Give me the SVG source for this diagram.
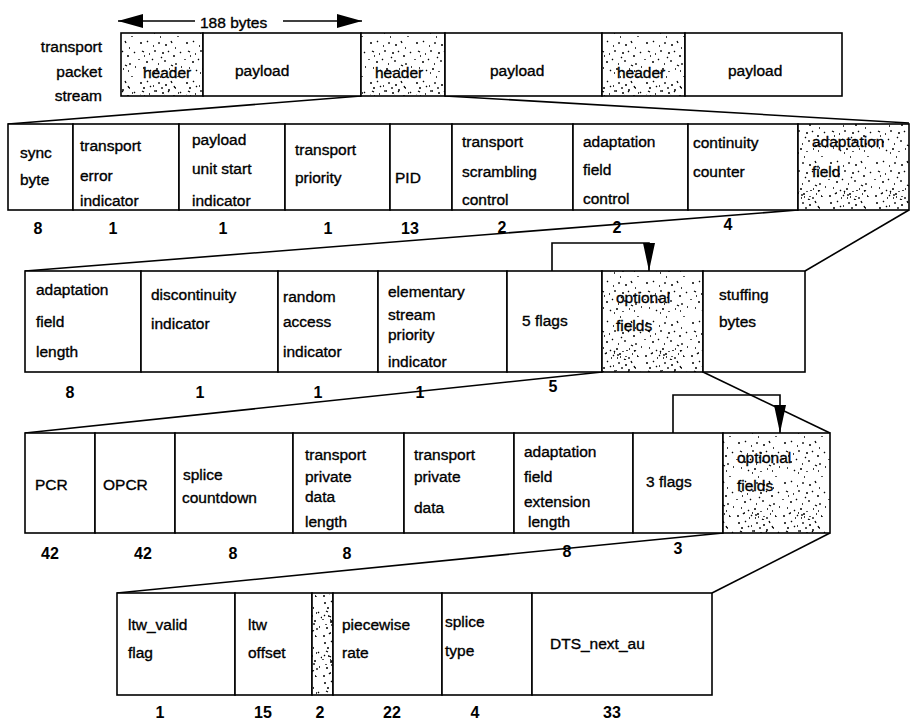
<svg xmlns="http://www.w3.org/2000/svg" width="911" height="721" viewBox="0 0 911 721">
<style>
text{font-family:"Liberation Sans",Arial,sans-serif;font-size:15.5px;fill:#000;stroke:#000;stroke-width:0.35}
.n{font-weight:bold;text-anchor:middle;stroke-width:0;font-size:16px}
.b{fill:#fff;stroke:#000;stroke-width:1.6}
.s{fill:url(#stip);stroke:#000;stroke-width:1.6}
.d{fill:url(#stipB);stroke:none}
.c{fill:none;stroke:#000;stroke-width:1.6}
.lbl{text-anchor:end}
</style>
<defs>
<pattern id="stip" width="46" height="40" patternUnits="userSpaceOnUse">
<rect width="46" height="40" fill="#fff"/>
<path id="dots" d="M2 3h2 M9 1l1 1 M15 6h1 M21 2v2 M27 5h2 M33 1l1 2 M37 8h1 M4 11l2 1 M11 14h1 M17 10v2 M24 13h2 M30 11l1 1 M35 16h2 M1 19v1 M8 22h2 M14 19l1 1 M20 24h1 M27 20v2 M33 25l2 1 M5 28h1 M12 30l1 1 M18 29h2 M25 31v1 M31 29h1 M38 23v2 M6 16h1 M23 17l1 1 M36 31h1 M16 33h1 M42 12l1 1 M43 27h1 M40 36v1 M22 37h1" stroke="#000" stroke-width="1.3" fill="none"/>
</pattern>
<pattern id="stipB" width="46" height="40" patternUnits="userSpaceOnUse">
<use href="#dots" transform="translate(3 5)"/>
<use href="#dots" transform="translate(-7 14)"/>
</pattern>
<marker id="tri" viewBox="0 0 28 12" markerWidth="28" markerHeight="12" refX="28" refY="6" orient="auto" markerUnits="userSpaceOnUse">
<path d="M0 0L28 6L0 12z" fill="#000"/>
</marker>
<marker id="tri2" viewBox="0 0 25 14" markerWidth="25" markerHeight="14" refX="25" refY="7" orient="auto" markerUnits="userSpaceOnUse">
<path d="M0 0L25 7L0 14z" fill="#000"/>
</marker>
</defs>
<rect width="911" height="721" fill="#fff"/>

<g id="connectors">
<line class="c" x1="195" y1="21" x2="118" y2="21" marker-end="url(#tri2)"/>
<line class="c" x1="283" y1="21" x2="362" y2="21" marker-end="url(#tri2)"/>
<line class="c" x1="361" y1="96" x2="8" y2="124"/>
<line class="c" x1="445" y1="96" x2="909" y2="123"/>
<line class="c" x1="798" y1="210" x2="25" y2="271"/>
<line class="c" x1="909" y1="210" x2="805" y2="271"/>
<line class="c" x1="602" y1="372" x2="25" y2="433"/>
<line class="c" x1="703" y1="372" x2="830" y2="433"/>
<line class="c" x1="723" y1="533" x2="117" y2="593"/>
<line class="c" x1="830" y1="533" x2="712" y2="593"/>
<path class="c" d="M552 271V243H649V271" marker-end="url(#tri)"/>
<path class="c" d="M673 433V395H780V433" marker-end="url(#tri)"/>
</g>

<g id="stream-label">
<text x="200" y="28">188 bytes</text>
<text class="lbl" x="102" y="52">transport</text>
<text class="lbl" x="102" y="77">packet</text>
<text class="lbl" x="102" y="101">stream</text>
</g>

<g id="header1"><rect class="s" x="121" y="33" width="82" height="63"/><rect class="d" x="122" y="82" width="80" height="13"/><text x="143" y="78">header</text></g>
<g id="payload1"><rect class="b" x="203" y="33" width="158" height="63"/><text x="235" y="76">payload</text></g>
<g id="header2"><rect class="s" x="361" y="33" width="84" height="63"/><rect class="d" x="362" y="82" width="82" height="13"/><text x="375" y="78">header</text></g>
<g id="payload2"><rect class="b" x="445" y="33" width="157" height="63"/><text x="490" y="76">payload</text></g>
<g id="header3"><rect class="s" x="602" y="33" width="83" height="63"/><rect class="d" x="603" y="82" width="81" height="13"/><text x="617" y="78">header</text></g>
<g id="payload3"><rect class="b" x="685" y="33" width="157" height="63"/><text x="728" y="76">payload</text></g>

<g id="sync-byte"><rect class="b" x="8" y="124" width="65" height="86"/><text x="20" y="158">sync</text><text x="20" y="185">byte</text><text class="n" x="38" y="234">8</text></g>
<g id="transport-error-indicator"><rect class="b" x="73" y="124" width="106" height="86"/><text x="80" y="151">transport</text><text x="80" y="181">error</text><text x="80" y="206">indicator</text><text class="n" x="113" y="234">1</text></g>
<g id="payload-unit-start-indicator"><rect class="b" x="179" y="124" width="106" height="86"/><text x="192" y="145">payload</text><text x="192" y="174">unit start</text><text x="192" y="206">indicator</text><text class="n" x="223" y="234">1</text></g>
<g id="transport-priority"><rect class="b" x="285" y="124" width="105" height="86"/><text x="295" y="155">transport</text><text x="295" y="183">priority</text><text class="n" x="328" y="234">1</text></g>
<g id="pid"><rect class="b" x="390" y="124" width="62" height="86"/><text x="395" y="183">PID</text><text class="n" x="410" y="234">13</text></g>
<g id="transport-scrambling-control"><rect class="b" x="452" y="124" width="121" height="86"/><text x="462" y="147">transport</text><text x="462" y="177">scrambling</text><text x="462" y="205">control</text><text class="n" x="502" y="233">2</text></g>
<g id="adaptation-field-control"><rect class="b" x="573" y="124" width="115" height="86"/><text x="583" y="147">adaptation</text><text x="583" y="175">field</text><text x="583" y="204">control</text><text class="n" x="617" y="233">2</text></g>
<g id="continuity-counter"><rect class="b" x="688" y="124" width="110" height="86"/><text x="693" y="148">continuity</text><text x="693" y="177">counter</text><text class="n" x="728" y="230">4</text></g>
<g id="adaptation-field"><rect class="s" x="798" y="124" width="111" height="86"/><rect class="d" x="799" y="190" width="109" height="19"/><text x="812" y="147">adaptation</text><text x="812" y="177">field</text></g>

<g id="adaptation-field-length"><rect class="b" x="25" y="271" width="116" height="101"/><text x="36" y="295">adaptation</text><text x="36" y="327">field</text><text x="36" y="357">length</text><text class="n" x="70" y="398">8</text></g>
<g id="discontinuity-indicator"><rect class="b" x="141" y="271" width="137" height="101"/><text x="151" y="300">discontinuity</text><text x="151" y="329">indicator</text><text class="n" x="200" y="398">1</text></g>
<g id="random-access-indicator"><rect class="b" x="278" y="271" width="100" height="101"/><text x="283" y="302">random</text><text x="283" y="327">access</text><text x="283" y="357">indicator</text><text class="n" x="318" y="398">1</text></g>
<g id="es-priority-indicator"><rect class="b" x="378" y="271" width="129" height="101"/><text x="388" y="297">elementary</text><text x="388" y="320">stream</text><text x="388" y="340">priority</text><text x="388" y="367">indicator</text><text class="n" x="420" y="398">1</text></g>
<g id="five-flags"><rect class="b" x="507" y="271" width="95" height="101"/><text x="522" y="326">5 flags</text><text class="n" x="553" y="392">5</text></g>
<g id="optional-fields-1"><rect class="s" x="602" y="271" width="101" height="101"/><rect class="d" x="603" y="350" width="99" height="21"/><text x="616" y="303">optional</text><text x="616" y="331">fields</text></g>
<g id="stuffing-bytes"><rect class="b" x="703" y="271" width="102" height="101"/><text x="719" y="300">stuffing</text><text x="719" y="327">bytes</text></g>

<g id="pcr"><rect class="b" x="25" y="433" width="70" height="100"/><text x="35" y="490">PCR</text><text class="n" x="50" y="559">42</text></g>
<g id="opcr"><rect class="b" x="95" y="433" width="80" height="100"/><text x="103" y="490">OPCR</text><text class="n" x="143" y="559">42</text></g>
<g id="splice-countdown"><rect class="b" x="175" y="433" width="118" height="100"/><text x="183" y="480">splice</text><text x="182" y="503">countdown</text><text class="n" x="233" y="559">8</text></g>
<g id="transport-private-data-length"><rect class="b" x="293" y="433" width="111" height="100"/><text x="305" y="460">transport</text><text x="305" y="482">private</text><text x="305" y="502">data</text><text x="305" y="527">length</text><text class="n" x="347" y="559">8</text></g>
<g id="transport-private-data"><rect class="b" x="404" y="433" width="110" height="100"/><text x="414" y="460">transport</text><text x="414" y="482">private</text><text x="414" y="513">data</text></g>
<g id="adaptation-field-extension-length"><rect class="b" x="514" y="433" width="119" height="100"/><text x="524" y="457">adaptation</text><text x="524" y="482">field</text><text x="524" y="507">extension</text><text x="528" y="527">length</text><text class="n" x="567" y="557">8</text></g>
<g id="three-flags"><rect class="b" x="633" y="433" width="90" height="100"/><text x="646" y="487">3 flags</text><text class="n" x="678" y="554">3</text></g>
<g id="optional-fields-2"><rect class="s" x="723" y="433" width="107" height="100"/><rect class="d" x="724" y="512" width="105" height="20"/><text x="737" y="463">optional</text><text x="737" y="491">fields</text></g>

<g id="ltw-valid-flag"><rect class="b" x="117" y="593" width="118" height="102"/><text x="128" y="630">ltw_valid</text><text x="128" y="658">flag</text><text class="n" x="160" y="718">1</text></g>
<g id="ltw-offset"><rect class="b" x="235" y="593" width="77" height="102"/><text x="248" y="630">ltw</text><text x="248" y="658">offset</text><text class="n" x="263" y="718">15</text></g>
<g id="reserved"><rect class="s" x="312" y="593" width="21" height="102"/><rect class="d" x="313" y="594" width="19" height="100"/><text class="n" x="320" y="718">2</text></g>
<g id="piecewise-rate"><rect class="b" x="333" y="593" width="109" height="102"/><text x="342" y="630">piecewise</text><text x="342" y="658">rate</text><text class="n" x="392" y="718">22</text></g>
<g id="splice-type"><rect class="b" x="442" y="593" width="90" height="102"/><text x="445" y="627">splice</text><text x="445" y="656">type</text><text class="n" x="475" y="718">4</text></g>
<g id="dts-next-au"><rect class="b" x="532" y="593" width="180" height="102"/><text x="550" y="649">DTS_next_au</text><text class="n" x="612" y="718">33</text></g>
</svg>
